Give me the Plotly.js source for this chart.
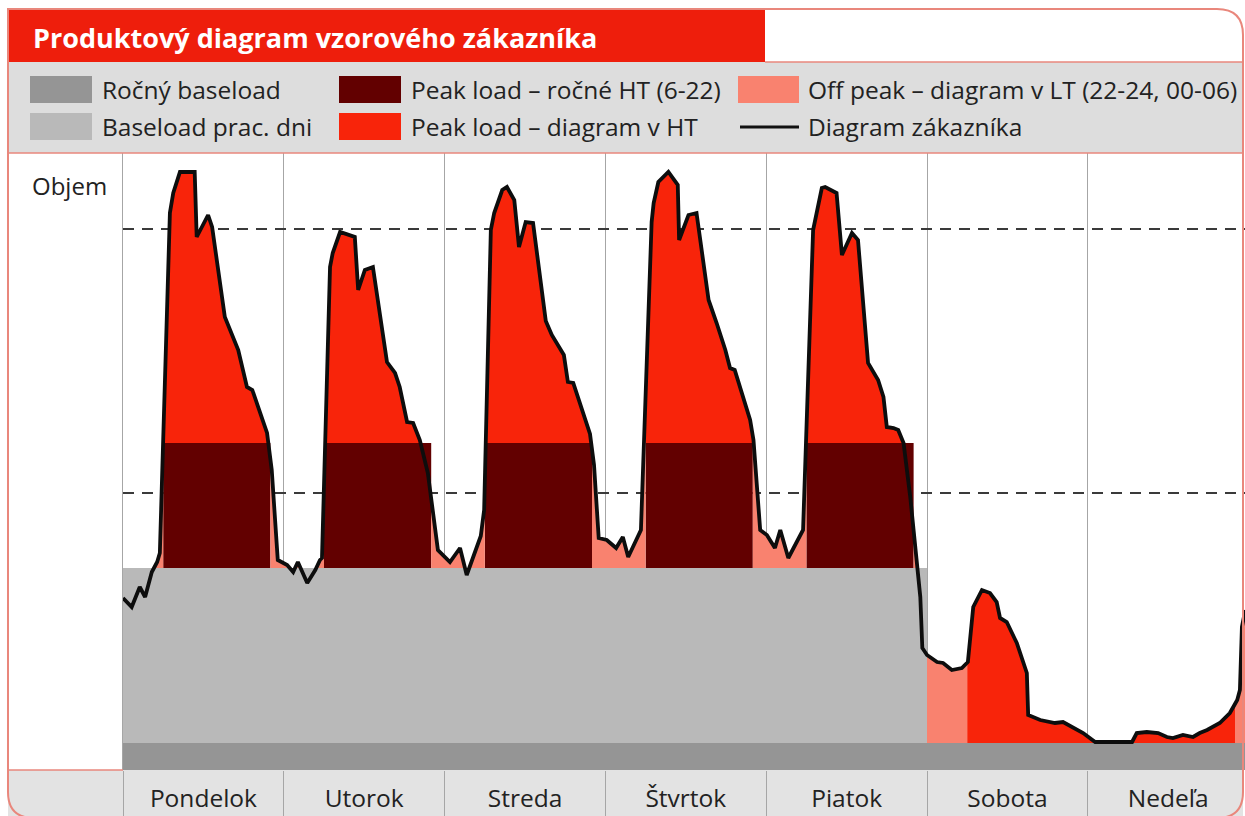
<!DOCTYPE html>
<html><head><meta charset="utf-8">
<script src="https://cdn.plot.ly/plotly-3.0.1.min.js"></script>
<style>html,body{margin:0;padding:0;background:#fff}#chart{width:1245px;height:816px}</style>
</head><body><div id="chart"></div>
<script>
// ---------------- data ----------------
const days = ['Pondelok','Utorok','Streda','Štvrtok','Piatok','Sobota','Nedeľa'];
const dayCenters = [12,36,60,84,108,132,156];
const dayBounds = [0,24,48,72,96,120,144,168];
const workdays = [0,1,2,3,4];
const htWindow = [6,22];              // HT hours (6-22)
const annualBaseload = 2.7;           // Ročný baseload level
const workdayBaseload = 20.2;         // Baseload prac. dni level
const peakAnnual = 32.7;              // Peak load - ročné HT level
const dashLevels = [54.1, 27.7];
const legendLabels = ['Ročný baseload','Baseload prac. dni','Peak load – ročné HT (6-22)','Peak load – diagram v HT','Off peak – diagram v LT (22-24, 00-06)','Diagram zákazníka'];

// customer diagram (hour of week, volume)
const hours = [
  0.0,1.3,2.5,3.3,4.3,5.1,5.5,7.0,7.5,8.5,10.7,11.0,12.7,13.3,15.2,17.2,18.5,19.3,21.5,22.2,23.1,
  24.5,25.4,26.1,27.5,28.7,29.4,29.7,30.9,31.3,32.4,34.6,35.1,36.1,37.3,39.4,40.6,41.3,42.4,43.3,44.3,45.5,47.0,
  48.8,50.3,51.3,53.4,53.9,54.9,55.4,56.6,57.3,58.4,59.1,60.1,61.2,63.1,64.0,65.8,66.4,67.2,69.7,70.3,71.0,
  72.2,73.6,74.6,75.4,77.3,78.9,79.2,79.9,81.4,82.8,83.0,84.4,85.6,87.4,88.6,89.9,90.6,91.3,93.6,94.1,95.1,
  96.1,97.3,98.1,99.3,101.5,103.0,104.0,104.3,104.8,106.5,107.3,108.8,109.7,111.2,112.7,113.5,114.0,115.0,115.7,116.5,117.5,118.5,119.0,119.3,
  120.0,121.5,122.4,123.7,125.2,126.1,126.9,128.2,129.4,130.4,130.9,131.9,133.4,134.9,135.1,136.9,139.1,140.3,141.8,143.3,145.1,
  150.6,151.3,152.8,154.5,155.8,156.7,158.2,159.7,160.7,161.8,163.7,165.2,166.3,166.7,167.0,167.5
];
const volume = [
  17.2,16.3,18.3,17.3,19.8,20.8,21.7,55.7,57.7,59.8,59.8,53.3,55.5,54.3,45.3,42.0,38.3,38.0,33.7,30.0,21.0,
  20.5,19.8,20.8,18.7,20.0,21.0,21.2,50.3,51.7,53.8,53.3,48.0,50.0,50.3,40.8,39.7,38.3,34.8,34.7,33.0,29.7,22.0,
  20.8,22.2,19.5,23.4,26.0,54.0,55.7,58.0,58.3,57.0,52.3,54.8,54.7,44.9,43.5,41.5,38.8,38.7,33.6,30.5,23.2,
  23.0,22.2,23.3,21.3,24.0,54.8,56.7,58.8,59.8,58.5,53.0,55.5,55.7,47.0,44.7,42.0,40.2,40.0,35.0,33.0,24.0,
  23.5,22.2,24.0,21.2,24.0,54.0,57.0,58.2,58.3,57.7,51.5,53.7,53.0,40.7,39.0,37.3,34.3,34.2,34.0,32.7,27.3,21.0,17.3,12.2,
  11.5,10.8,10.7,10.0,10.2,10.8,16.3,18.0,17.7,16.8,15.2,14.8,12.7,9.7,5.5,5.0,4.7,4.8,4.3,3.7,2.8,
  2.8,3.7,3.8,3.7,3.3,3.2,3.5,3.3,3.7,4.0,4.7,5.7,7.0,8.0,14.3,16.0
];

// ---------------- colours ----------------
const C = {
  annual:'#959595', workday:'#b9b9b9', peakAnnual:'#620000', peakHT:'#f8240a',
  offPeak:'#f9826f', line:'#0d0d0d', titleRed:'#ee1e0c', legendBg:'#dddddd',
  strip:'#e3e3e3', border:'#e9877c', grid:'#a6a6a6', text:'#222222'
};

// ---------------- helpers ----------------
const xMax = dayBounds[dayBounds.length-1];
function curveAt(t){
  if (t<=hours[0]) return volume[0];
  const n=hours.length;
  if (t>=hours[n-1]) return volume[n-1];
  for (let i=1;i<n;i++){
    if (hours[i]>=t){ const f=(t-hours[i-1])/(hours[i]-hours[i-1]); return volume[i-1]+f*(volume[i]-volume[i-1]); }
  }
}
function addArea(t0,t1,base,xs,ys){
  const pts=[[t0,curveAt(t0)]];
  hours.forEach((h,i)=>{ if(h>t0&&h<t1) pts.push([h,volume[i]]); });
  pts.push([t1,curveAt(t1)]);
  for(let i=0;i<pts.length;i++){
    if(i>0){
      const [a,ya]=pts[i-1],[b,yb]=pts[i];
      if((ya-base)*(yb-base)<0){ const f=(base-ya)/(yb-ya); xs.push(a+f*(b-a)); ys.push(base); }
    }
    xs.push(pts[i][0]); ys.push(Math.max(pts[i][1],base));
  }
  xs.push(t1,t0,null); ys.push(base,base,null);
}
function addRect(x0,x1,y0,y1,xs,ys){ xs.push(x0,x1,x1,x0,x0,null); ys.push(y0,y0,y1,y1,y0,null); }

// build areas
const annX=[],annY=[]; addRect(0,xMax,0,annualBaseload,annX,annY);
const wdX=[],wdY=[]; addRect(0,24*workdays.length,annualBaseload,workdayBaseload,wdX,wdY);
const paX=[],paY=[];
workdays.forEach(d=>addRect(24*d+htWindow[0],24*d+htWindow[1],workdayBaseload,peakAnnual,paX,paY));
const htX=[],htY=[];
workdays.forEach(d=>addArea(24*d+htWindow[0],24*d+htWindow[1],peakAnnual,htX,htY));
addArea(120+htWindow[0],144+htWindow[1],annualBaseload,htX,htY);
const ltX=[],ltY=[];
addArea(0,htWindow[0],workdayBaseload,ltX,ltY);
workdays.forEach(d=>{ const s=24*d+htWindow[1]; const e=Math.min(24*(d+1)+htWindow[0],120); addArea(s,e,workdayBaseload,ltX,ltY); });
addArea(120,120+htWindow[0],annualBaseload,ltX,ltY);
addArea(144+htWindow[1],xMax,annualBaseload,ltX,ltY);

const fillTrace=(x,y,color)=>({type:'scatter',mode:'lines',x,y,fill:'toself',fillcolor:color,line:{width:0,color:color},hoverinfo:'skip',connectgaps:false});

const traces=[
  ...dashLevels.map(l=>({type:'scatter',mode:'lines',x:[0,xMax],y:[l,l],line:{color:'#3a3a3a',width:1.8,dash:'11px,8px'},hoverinfo:'skip'})),
  fillTrace(annX,annY,C.annual),
  fillTrace(wdX,wdY,C.workday),
  fillTrace(paX,paY,C.peakAnnual),
  fillTrace(ltX,ltY,C.offPeak),
  fillTrace(htX,htY,C.peakHT),
  {type:'scatter',mode:'lines',x:hours,y:volume,line:{color:C.line,width:3.8},hoverinfo:'skip'}
];

// ---------------- decoration (pixel -> paper) ----------------
const L=123,T=153,W=1122,H=617;
const PX=x=>(x-L)/W, PY=y=>(T+H-y)/H;
const rect=(x0,y0,x1,y1,fill,layer)=>({type:'rect',xref:'paper',yref:'paper',x0:PX(x0),x1:PX(x1),y0:PY(y0),y1:PY(y1),fillcolor:fill,line:{width:0},layer:layer||'below'});
const hline=(x0,x1,y,color,w)=>({type:'line',xref:'paper',yref:'paper',x0:PX(x0),x1:PX(x1),y0:PY(y),y1:PY(y),line:{color,width:w||1.5},layer:'above'});
function borderPath(l,t,r,b,rad){
  const p=(x,y)=>PX(x).toFixed(5)+','+PY(y).toFixed(5);
  return 'M'+p(l,t)+' L'+p(r-rad,t)+' Q'+p(r,t)+' '+p(r,t+rad)+' L'+p(r,b-rad)+' Q'+p(r,b)+' '+p(r-rad,b)+
    ' L'+p(l+rad,b)+' Q'+p(l,b)+' '+p(l,b-rad)+' Z';
}
const shapes=[
  rect(8,62,1243,153,C.legendBg),
  rect(8,9,765,62,C.titleRed),
  rect(8,770,1243,818,C.strip),
  hline(765,1243,62,C.border,1.5),
  hline(8,1243,153,C.border,1.5),
  hline(8,123,770,C.border,1.5),
  {type:'path',xref:'paper',yref:'paper',path:borderPath(8,9,1243,818,26),line:{color:C.border,width:2},fillcolor:'rgba(0,0,0,0)',layer:'above'},
  // legend swatches
  rect(30,76,92,103,C.annual,'above'),
  rect(30,113,92,140,C.workday,'above'),
  rect(339,76,401,103,C.peakAnnual,'above'),
  rect(339,113,401,140,C.peakHT,'above'),
  rect(738,76,799,103,C.offPeak,'above'),
  hline(740,799,127,'#111111',3)
];
const F='"Open Sans", "Noto Sans", sans-serif';
const txt=(x,y,t,size,color,extra)=>Object.assign({xref:'paper',yref:'paper',x:PX(x),y:PY(y),text:t,showarrow:false,xanchor:'left',yanchor:'middle',font:{family:F,size,color}},extra||{});
const annotations=[
  txt(31,37,'Produktový diagram vzorového zákazníka',27,'#ffffff',{font:{family:F,size:27,color:'#ffffff',weight:700}}),
  txt(100,90,legendLabels[0],24.5,C.text),
  txt(100,127,legendLabels[1],24.5,C.text),
  txt(409,90,legendLabels[2],24.5,C.text),
  txt(409,127,legendLabels[3],24.5,C.text),
  txt(806,90,legendLabels[4],24.5,C.text),
  txt(806,127,legendLabels[5],24.5,C.text),
  txt(30,185,'Objem',24,C.text)
];

const layout={
  width:1245,height:816,margin:{l:L,r:1245-L-W,t:T,b:816-T-H,pad:0},
  paper_bgcolor:'#ffffff',plot_bgcolor:'#ffffff',showlegend:false,
  xaxis:{range:[0,167.46],fixedrange:true,showgrid:false,zeroline:false,showline:false,
    tickmode:'array',tickvals:dayCenters,ticktext:days,ticks:'',ticklabelstandoff:11,
    tickfont:{family:F,size:24.5,color:C.text},
    minor:{tickmode:'array',tickvals:dayBounds,ticks:'outside',ticklen:48,tickwidth:1,tickcolor:C.grid,showgrid:true,gridcolor:C.grid,gridwidth:1}},
  yaxis:{range:[0,61.7],fixedrange:true,showgrid:false,zeroline:false,showticklabels:false,ticks:'',showline:true,linecolor:C.grid,linewidth:1},
  shapes,annotations
};
Plotly.newPlot('chart',traces,layout,{displayModeBar:false,staticPlot:true});
</script></body></html>
